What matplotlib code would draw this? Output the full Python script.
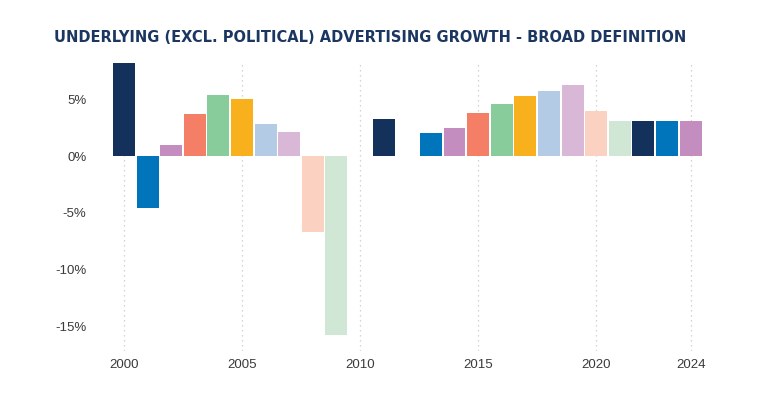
import numpy as np
import matplotlib
matplotlib.use("Agg")
import matplotlib.pyplot as plt
from matplotlib.ticker import FuncFormatter

years = [2000, 2001, 2002, 2003, 2004, 2005, 2006, 2007, 2008, 2009,
         2011, 2013, 2014, 2015, 2016, 2017, 2018, 2019, 2020, 2021,
         2022, 2023, 2024]
growth = [8.2, -4.6, 1.0, 3.7, 5.4, 5.0, 2.8, 2.1, -6.7, -15.8,
          3.3, 2.0, 2.5, 3.8, 4.6, 5.3, 5.75, 6.3, 4.0, 3.1,
          3.1, 3.1, 3.1]
palette = ["#14315C", "#0075BC", "#C48DC0", "#F47F66", "#88CC9B",
           "#F8B11D", "#B3CBE5", "#D9B8D7", "#FBD1C2", "#CFE7D4"]
xticks = [2000, 2005, 2010, 2015, 2020, 2024]
yticks = [-15, -10, -5, 0, 5]
title = "UNDERLYING (EXCL. POLITICAL) ADVERTISING GROWTH - BROAD DEFINITION"

fig = plt.figure(figsize=(7.78, 3.95), dpi=100)
ax = fig.add_axes([0.129, 0.111, 0.789, 0.732])

colors = [palette[i % len(palette)] for i in range(len(years))]
ax.bar(years, growth, width=0.93, color=colors, zorder=3)

ax.set_xlim(1999, 2025)
ax.set_ylim(-17.2, 8.3)
ax.set_xticks(xticks)
ax.set_yticks(yticks)
ax.yaxis.set_major_formatter(FuncFormatter(lambda v, p: f"{int(v)}%"))
ax.grid(axis="x", color="#c8c8c8", linestyle=(0, (1, 3)), linewidth=0.9, zorder=0)
ax.grid(axis="y", visible=False)
for s in ax.spines.values():
    s.set_visible(False)
ax.tick_params(length=0, labelsize=9.5, labelcolor="#3a3a3a")
ax.tick_params(axis="y", pad=10)
ax.tick_params(axis="x", pad=6)
for lab in ax.get_xticklabels() + ax.get_yticklabels():
    lab.set_fontfamily("Liberation Sans")

fig.text(54 / 778, 1 - 38 / 395, title, fontsize=10.5, fontweight="heavy",
         color="#1B3660", family="DejaVu Sans", va="center", ha="left")

fig.savefig("out.png", dpi=100)
